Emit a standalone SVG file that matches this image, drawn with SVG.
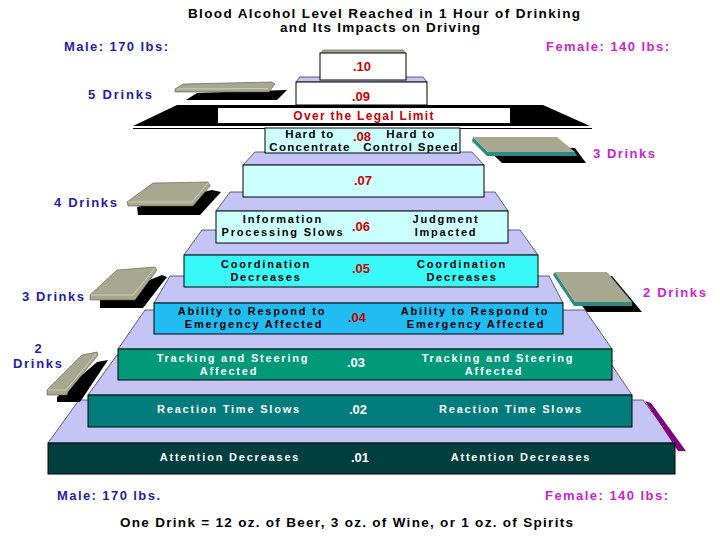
<svg xmlns="http://www.w3.org/2000/svg" width="720" height="540" viewBox="0 0 720 540">
<style>
text{font-family:"Liberation Sans",Arial,sans-serif;font-weight:bold}
.face{fill:#C4C4F6;stroke:#3a3a55;stroke-width:0.8}
.box{stroke:#000;stroke-width:1}
.t{font-size:11px;letter-spacing:1.8px;text-anchor:middle}
.t8{font-size:11.5px;letter-spacing:1.3px;text-anchor:middle;fill:#000}
.tb{fill:#000}
.tw{fill:#fff}
.v{font-size:13px;fill:#CC0000;text-anchor:middle}
.vw{font-size:13px;fill:#fff;text-anchor:middle}
.m{fill:#1E1EA8;font-size:13px}
.f{fill:#CC22CC;font-size:13px}
.k{fill:#A8A890;stroke:#55554a;stroke-width:0.6}
.hl{stroke:#D8D8C4;stroke-width:0.8;fill:none}
.teal{fill:#2C8C84}
.sh{fill:#000}
</style>

<!-- lavender step faces -->
<g id="faces">
<polygon class="face" points="48,443 675,443 643,400 79,400"/>
<polygon class="face" points="88,395 632,395 605,355 117,355"/>
<polygon class="face" points="118,349 612,349 585,310 145,310"/>
<polygon class="face" points="154,303 563,303 549,276 170,276"/>
<polygon class="face" points="184,255 538,255 520,230 202,230"/>
<polygon class="face" points="216,211 508,211 495,192 230,192"/>
<polygon class="face" points="243,165 484,165 472,152 255,152"/>
<polygon class="face" points="296,82 427,82 423,77 300,77"/>
<polygon fill="#800080" points="645,401 651,403 686,451 678,451"/>
</g>

<g id="connectors"></g>

<g id="tier-10">
<polygon fill="#A8A890" stroke="#55554a" stroke-width="0.6" points="320,54 406,54 403,50 323,50"/>
<rect class="box" x="320" y="53" width="86" height="27" fill="#fff"/>
<text class="v" x="362" y="71">.10</text>
</g>

<g id="tier-09">
<rect class="box" x="296" y="82" width="131" height="23" fill="#fff"/>
<text class="v" x="361" y="101">.09</text>
</g>

<g id="legal-limit">
<polygon fill="#000" points="177,105 543,105 590,126 133,126"/>
<rect x="218" y="108" width="292" height="15" fill="#fff"/>
<line x1="133" y1="128.5" x2="592" y2="128.5" stroke="#000" stroke-width="1.2"/>
<text x="364" y="120" font-size="12" letter-spacing="1.3" fill="#CC0000" text-anchor="middle">Over the Legal Limit</text>
</g>

<g id="tier-08">
<rect class="box" x="265" y="128" width="195" height="25" fill="#CCFFFF"/>
<text class="t8" x="310" y="138">Hard to</text>
<text class="t8" x="310" y="151">Concentrate</text>
<text class="t8" x="411" y="138">Hard to</text>
<text class="t8" x="411" y="151">Control Speed</text>
<text class="v" x="362" y="141">.08</text>
</g>

<g id="tier-07">
<rect class="box" x="243" y="165" width="241" height="32" fill="#CCFFFF"/>
<text class="v" x="363" y="185">.07</text>
</g>

<g id="tier-06">
<rect class="box" x="216" y="211" width="292" height="32" fill="#CCFFFF"/>
<text class="t tb" x="283" y="223">Information</text>
<text class="t tb" x="283" y="236">Processing Slows</text>
<text class="t tb" x="446" y="223">Judgment</text>
<text class="t tb" x="446" y="236">Impacted</text>
<text class="v" x="361" y="231">.06</text>
</g>

<g id="tier-05">
<rect class="box" x="184" y="255" width="354" height="32" fill="#38F8F8"/>
<text class="t tb" x="266" y="268">Coordination</text>
<text class="t tb" x="266" y="281">Decreases</text>
<text class="t tb" x="462" y="268">Coordination</text>
<text class="t tb" x="462" y="281">Decreases</text>
<text class="v" x="361" y="273">.05</text>
</g>

<g id="tier-04">
<rect class="box" x="154" y="303" width="409" height="31" fill="#20BCF2"/>
<text class="t tb" x="252" y="315">Ability to Respond to</text>
<text class="t tb" x="254" y="328">Emergency Affected</text>
<text class="t tb" x="475" y="315">Ability to Respond to</text>
<text class="t tb" x="476" y="328">Emergency Affected</text>
<text class="v" x="357" y="322">.04</text>
</g>

<g id="tier-03">
<rect class="box" x="118" y="349" width="494" height="31" fill="#009A7A"/>
<text class="t tw" x="233" y="362">Tracking and Steering</text>
<text class="t tw" x="229" y="375">Affected</text>
<text class="t tw" x="498" y="362">Tracking and Steering</text>
<text class="t tw" x="494" y="375">Affected</text>
<text class="vw" x="356" y="367">.03</text>
</g>

<g id="tier-02">
<rect class="box" x="88" y="395" width="544" height="32" fill="#007C7C"/>
<text class="t tw" x="229" y="413">Reaction Time Slows</text>
<text class="t tw" x="511" y="413">Reaction Time Slows</text>
<text class="vw" x="358" y="414">.02</text>
</g>

<g id="tier-01">
<rect class="box" x="48" y="443" width="627" height="31" fill="#003F3F"/>
<text class="t tw" x="230" y="461">Attention Decreases</text>
<text class="t tw" x="521" y="461">Attention Decreases</text>
<text class="vw" x="360" y="462">.01</text>
</g>

<!-- drink platforms, male side -->
<g id="male-5-drinks">
<polygon class="sh" points="197,93 287,90 277,100 186,100"/>
<polygon class="k" points="183,84 272,82 275,84 269,92 175,92 175,89"/>
<line class="hl" x1="177" y1="89" x2="268" y2="88.5"/>
<text class="m" x="88" y="99" textLength="64" lengthAdjust="spacing">5 Drinks</text>
</g>
<g id="male-4-drinks">
<polygon class="sh" points="137,207 212,190 221,192 200,215 138,215"/>
<polygon class="k" points="127,202 153,183 208,182 210,186 193,206 128,206"/>
<polyline class="hl" points="128,202 192,202 208,183"/>
<text class="m" x="54" y="207" textLength="63" lengthAdjust="spacing">4 Drinks</text>
</g>
<g id="male-3-drinks">
<polygon class="sh" points="100,300 162,275 167,277 143,308 100,308"/>
<polygon class="k" points="90,295 117,270 155,267 157,270 135,300 90,300"/>
<polyline class="hl" points="91,295 133,295 155,268"/>
<text class="m" x="22" y="301" textLength="62" lengthAdjust="spacing">3 Drinks</text>
</g>
<g id="male-2-drinks">
<polygon class="sh" points="57,397 97,362 108,360 80,402 57,402"/>
<polygon class="k" points="47,390 82,355 97,352 98,355 68,392 67,395 47,395"/>
<polyline class="hl" points="48,390 66,390 96,354"/>
<text class="m" x="38" y="353" text-anchor="middle">2</text>
<text class="m" x="13" y="368" textLength="49" lengthAdjust="spacing">Drinks</text>
</g>

<!-- drink platforms, female side -->
<g id="female-3-drinks">
<polygon class="sh" points="486,148 575,148 586,163 502,163"/>
<polygon class="teal" points="473,137 488,152 575,152 577,156 487,156 472,141"/>
<polygon fill="#A8A890" points="473,137 557,137 575,152 488,152"/>
<text class="f" x="593" y="158" textLength="62" lengthAdjust="spacing">3 Drinks</text>
</g>
<g id="female-2-drinks">
<polygon class="sh" points="558,276 612,276 642,312 587,312"/>
<polygon class="teal" points="555,272 575,302 632,302 632,306 574,306 553,275"/>
<polygon fill="#A8A890" points="555,272 607,272 632,302 575,302"/>
<text class="f" x="643" y="297" textLength="63" lengthAdjust="spacing">2 Drinks</text>
</g>

<!-- titles and labels -->
<g id="title">
<text x="384" y="18" font-size="13.5" text-anchor="middle" textLength="392" lengthAdjust="spacing">Blood Alcohol Level Reached in 1 Hour of Drinking</text>
<text x="380" y="32" font-size="13.5" text-anchor="middle" textLength="200" lengthAdjust="spacing">and Its Impacts on Driving</text>
</g>
<g id="labels">
<text class="m" x="64" y="51" textLength="104" lengthAdjust="spacing">Male: 170 lbs:</text>
<text class="f" x="546" y="51" textLength="123" lengthAdjust="spacing">Female: 140 lbs:</text>
<text class="m" x="57" y="500" font-size="14" textLength="103" lengthAdjust="spacing">Male: 170 lbs.</text>
<text class="f" x="545" y="500" font-size="14" textLength="123" lengthAdjust="spacing">Female: 140 lbs:</text>
<text x="120" y="527" font-size="13.5" fill="#000" textLength="453" lengthAdjust="spacing">One Drink = 12 oz. of Beer, 3 oz. of Wine, or 1 oz. of Spirits</text>
</g>
</svg>
